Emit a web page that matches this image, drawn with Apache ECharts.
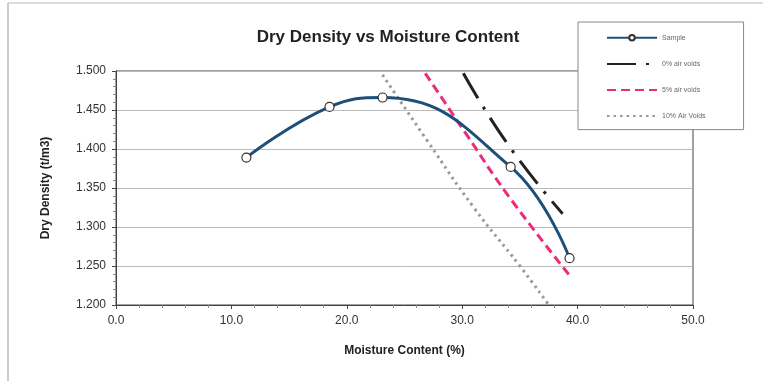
<!DOCTYPE html>
<html><head><meta charset="utf-8">
<script src="https://cdn.jsdelivr.net/npm/echarts@6/dist/echarts.min.js"></script>
<style>html,body{margin:0;padding:0;background:#fff}#c{width:763px;height:381px}</style>
</head><body><div id="c"></div>
<script>
const sampleX = [11.3, 18.5, 23.1, 34.2, 39.3];
const sampleY = [1.389, 1.454, 1.466, 1.377, 1.260];
const air0X = [30.1, 34.0, 38.7];
const air0Y = [1.497, 1.405, 1.317];
const air5X = [26.8, 30.4, 34.0, 39.3];
const air5Y = [1.497, 1.418, 1.340, 1.238];
const air10X = [23.1, 27.0, 31.0, 35.0, 37.5];
const air10Y = [1.495, 1.410, 1.325, 1.250, 1.200];
const xTicks = [0, 10, 20, 30, 40, 50];
const yTicks = [1.2, 1.25, 1.3, 1.35, 1.4, 1.45, 1.5];
const names = ['Sample', '0% air voids', '5% air voids', '10% Air Voids'];

const zip = (a, b) => a.map((v, i) => [v, b[i]]);
const font = 'Liberation Sans, Arial, sans-serif';
const chart = echarts.init(document.getElementById('c'), null, {renderer: 'canvas'});
chart.setOption({
  animation: false,
  backgroundColor: '#fff',
  title: {text: 'Dry Density vs Moisture Content', left: 383, textAlign: 'center', top: 24,
    textStyle: {fontFamily: font, fontSize: 17, fontWeight: 'bold', color: '#222'}},
  grid: {left: 116, right: 70, top: 71, bottom: 76, show: true, borderColor: '#444', borderWidth: 1},
  legend: {
    orient: 'vertical', left: 578, top: 22, padding: [12, 38, 10, 28], itemGap: 19,
    itemWidth: 50, itemHeight: 7, borderColor: '#888', borderWidth: 1, backgroundColor: '#fff',
    textStyle: {fontFamily: font, fontSize: 7, color: '#666'},
    data: [
      {name: names[0]},
      {name: names[1], itemStyle: {opacity: 0}},
      {name: names[2], itemStyle: {opacity: 0}},
      {name: names[3], itemStyle: {opacity: 0}}
    ]
  },
  xAxis: {
    type: 'value', min: xTicks[0], max: xTicks[xTicks.length - 1], interval: 10,
    name: 'Moisture Content (%)', nameLocation: 'middle', nameGap: 40,
    nameTextStyle: {fontFamily: font, fontSize: 12, fontWeight: 'bold', color: '#222'},
    axisLine: {lineStyle: {color: '#444', width: 1}},
    axisTick: {show: true, length: 4, lineStyle: {color: '#444'}},
    minorTick: {show: true, splitNumber: 5, length: 3, lineStyle: {color: '#888'}},
    axisLabel: {fontFamily: font, fontSize: 12, color: '#333', margin: 10, formatter: v => v.toFixed(1)},
    splitLine: {show: false}
  },
  yAxis: {
    type: 'value', min: 1.2, max: 1.5, interval: 0.05,
    name: 'Dry Density (t/m3)', nameLocation: 'middle', nameGap: 64, nameRotate: 90,
    nameTextStyle: {fontFamily: font, fontSize: 12, fontWeight: 'bold', color: '#222'},
    axisLine: {show: true, lineStyle: {color: '#444', width: 1}},
    axisTick: {show: true, length: 4, lineStyle: {color: '#444'}},
    minorTick: {show: true, splitNumber: 5, length: 3, lineStyle: {color: '#888'}},
    axisLabel: {fontFamily: font, fontSize: 12, color: '#333', margin: 10, formatter: v => v.toFixed(3)},
    splitLine: {show: true, lineStyle: {color: '#bbb', width: 1}}
  },
  series: [
    {name: names[0], type: 'line', data: zip(sampleX, sampleY), smooth: 0.45,
      symbol: 'circle', symbolSize: 9, z: 5,
      lineStyle: {color: '#1d4f78', width: 3},
      itemStyle: {color: '#fff', borderColor: '#333', borderWidth: 1.2}},
    {name: names[1], type: 'line', data: zip(air0X, air0Y), smooth: true, symbol: 'none',
      lineStyle: {color: '#222', width: 3, type: [29, 10, 3, 10]}, itemStyle: {color: '#222'}},
    {name: names[2], type: 'line', data: zip(air5X, air5Y), smooth: true, symbol: 'none',
      lineStyle: {color: '#ee2a7b', width: 3, type: [9, 5]}, itemStyle: {color: '#ee2a7b'}},
    {name: names[3], type: 'line', data: zip(air10X, air10Y), smooth: true, symbol: 'none',
      lineStyle: {color: '#999', width: 3, type: [2.5, 4]}, itemStyle: {color: '#999'}}
  ],
  graphic: [
    {type: 'line', shape: {x1: 8, y1: 3, x2: 8, y2: 381}, style: {stroke: '#999', lineWidth: 1}},
    {type: 'line', shape: {x1: 8, y1: 3, x2: 763, y2: 3}, style: {stroke: '#bbb', lineWidth: 1}}
  ]
});
</script></body></html>
